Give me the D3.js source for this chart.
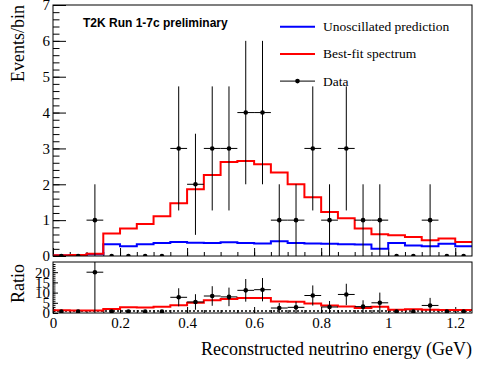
<!DOCTYPE html>
<html>
<head>
<meta charset="utf-8">
<script src="https://cdn.jsdelivr.net/npm/d3@7"></script>
<style>
  body { margin: 0; background: #fff; }
  svg { display: block; }
  .tick text { font-family: "Liberation Serif", "Times New Roman", serif; }
</style>
</head>
<body>
<svg id="chart" width="487" height="370"></svg>
<script>
// bins of reconstructed energy (GeV)
const binEdges = [0, 0.05, 0.1, 0.15, 0.2, 0.25, 0.3, 0.35, 0.4, 0.45, 0.5, 0.55, 0.6,
                  0.65, 0.7, 0.75, 0.8, 0.85, 0.9, 0.95, 1.0, 1.05, 1.1, 1.15, 1.2, 1.25];
const dataCounts = [0, 0, 1, 0, 0, 0, 0, 3, 2, 3, 3, 4, 4, 1, 1, 3, 1, 3, 1, 1, 0, 0, 1, 0, 0];
const dataErr    = [0, 0, 1, 0, 0, 0, 0, 1.73, 1.41, 1.73, 1.73, 2, 2, 1, 1, 1.73, 1, 1.73, 1, 1, 0, 0, 1, 0, 0];
const bestFit    = [0.02, 0.03, 0.06, 0.63, 0.77, 0.89, 1.11, 1.47, 1.86, 2.26, 2.62, 2.65, 2.56,
                    2.33, 2.0, 1.64, 1.23, 1.05, 0.77, 0.61, 0.58, 0.53, 0.44, 0.49, 0.39];
const unoscPred  = [0.015, 0.025, 0.05, 0.33, 0.27, 0.33, 0.36, 0.39, 0.37, 0.36, 0.38, 0.36, 0.35,
                    0.41, 0.36, 0.35, 0.34, 0.33, 0.32, 0.2, 0.36, 0.29, 0.27, 0.34, 0.27];

const xTicks = [0, 0.2, 0.4, 0.6, 0.8, 1.0, 1.2];
const xTickLabels = ["0", "0.2", "0.4", "0.6", "0.8", "1", "1.2"];
const yTicksTop = [0, 1, 2, 3, 4, 5, 6, 7];
const yTicksRatio = [0, 5, 10, 15, 20];

const legendItems = [
    { label: "Unoscillated prediction", color: "#0000ff", type: "line" },
    { label: "Best-fit spectrum",       color: "#ff0000", type: "line" },
    { label: "Data",                    color: "#000000", type: "point" }
];

const svg = d3.select("#chart");
const serif = "'Liberation Serif', 'Times New Roman', serif";

// panel geometry
const L = 53, R = 472;
const mainP = { y0: 5, y1: 256 };
const ratP = { y0: 262, y1: 313 };

const x = d3.scaleLinear().domain([0, 1.25]).range([L, R]);
const y = d3.scaleLinear().domain([0, 7]).range([mainP.y1, mainP.y0]);
const yR = d3.scaleLinear().domain([0, 25]).range([ratP.y1, ratP.y0]);

const bins = dataCounts.map((d, i) => ({
    lo: binEdges[i], hi: binEdges[i + 1], c: (binEdges[i] + binEdges[i + 1]) / 2,
    n: d, err: dataErr[i], fit: bestFit[i], unosc: unoscPred[i],
    ratio: d / unoscPred[i], ratioErr: dataErr[i] / unoscPred[i], fitRatio: bestFit[i] / unoscPred[i]
}));

const defs = svg.append("defs");
defs.append("clipPath").attr("id", "clipTop").append("rect")
    .attr("x", L).attr("y", mainP.y0).attr("width", R - L).attr("height", mainP.y1 - mainP.y0);
defs.append("clipPath").attr("id", "clipRat").append("rect")
    .attr("x", L).attr("y", ratP.y0).attr("width", R - L).attr("height", ratP.y1 - ratP.y0);

// step line through bin contents
const stepPts = (key) => bins.map(b => [b.lo, b[key]]).concat([[bins[bins.length - 1].hi, bins[bins.length - 1][key]]]);
const stepLine = (ys) => d3.line().x(d => x(d[0])).y(d => ys(d[1])).curve(d3.curveStepAfter);

// ---------- axes helpers ----------
function yAxis(g, scale, major, minor, majLen, minLen) {
    g.append("g").attr("transform", `translate(${L},0)`)
        .call(d3.axisLeft(scale).tickValues(minor).tickSize(-minLen).tickFormat(""))
        .call(a => a.select(".domain").remove());
    g.append("g").attr("transform", `translate(${L},0)`)
        .call(d3.axisLeft(scale).tickValues(major).tickSize(-majLen).tickPadding(3).tickFormat(d3.format("d")))
        .call(a => a.select(".domain").remove())
        .call(a => a.selectAll("text").attr("font-size", 15).attr("fill", "#000"));
}
function xAxis(g, yPos, majLen, minLen, labels) {
    g.append("g").attr("transform", `translate(0,${yPos})`)
        .call(d3.axisBottom(x).tickValues(binEdges.slice(0, 25)).tickSize(-minLen).tickFormat(""))
        .call(a => a.select(".domain").remove());
    const ax = d3.axisBottom(x).tickValues(xTicks).tickSize(-majLen).tickPadding(4)
        .tickFormat((d, i) => labels ? xTickLabels[i] : "");
    g.append("g").attr("transform", `translate(0,${yPos})`)
        .call(ax)
        .call(a => a.select(".domain").remove())
        .call(a => a.selectAll("text").attr("font-size", 15).attr("fill", "#000"));
}

// ---------- top panel ----------
const gTop = svg.append("g");
yAxis(gTop, y, yTicksTop, d3.range(0, 35).map(i => i * 0.2), 13, 6.5);
xAxis(gTop, mainP.y1, 8, 4, false);

const plotTop = gTop.append("g").attr("clip-path", "url(#clipTop)");
plotTop.append("path").attr("d", stepLine(y)(stepPts("unosc")))
    .attr("fill", "none").attr("stroke", "#0000ff").attr("stroke-width", 2);
plotTop.append("path").attr("d", stepLine(y)(stepPts("fit")))
    .attr("fill", "none").attr("stroke", "#ff0000").attr("stroke-width", 2);

const errTop = plotTop.append("g").attr("stroke", "#000").attr("stroke-width", 1);
const nonzero = bins.filter(b => b.n > 0);
errTop.selectAll("line.v").data(nonzero).join("line").attr("class", "v")
    .attr("x1", d => x(d.c)).attr("x2", d => x(d.c))
    .attr("y1", d => y(d.n - d.err)).attr("y2", d => y(d.n + d.err));
errTop.selectAll("line.h").data(nonzero).join("line").attr("class", "h")
    .attr("x1", d => x(d.lo)).attr("x2", d => x(d.hi))
    .attr("y1", d => y(d.n)).attr("y2", d => y(d.n));
plotTop.selectAll("circle").data(bins).join("circle")
    .attr("cx", d => x(d.c)).attr("cy", d => y(d.n)).attr("r", 2.3).attr("fill", "#000");

gTop.append("rect").attr("x", L).attr("y", mainP.y0).attr("width", R - L).attr("height", mainP.y1 - mainP.y0)
    .attr("fill", "none").attr("stroke", "#000").attr("stroke-width", 1);

gTop.append("text").attr("x", 83).attr("y", 27)
    .attr("font-family", "'Liberation Sans', Arial, sans-serif").attr("font-weight", "bold")
    .attr("font-size", 12).text("T2K Run 1-7c preliminary");

// legend
const leg = gTop.append("g").selectAll("g").data(legendItems).join("g")
    .attr("transform", (d, i) => `translate(280,${26.7 + i * 27.2})`);
leg.append("line").attr("x1", 0).attr("x2", 35).attr("y1", 0).attr("y2", 0)
    .attr("stroke", d => d.color).attr("stroke-width", d => d.type === "line" ? 2 : 1);
leg.filter(d => d.type === "point").append("circle").attr("cx", 17.5).attr("cy", 0).attr("r", 2.3).attr("fill", "#000");
leg.append("text").attr("x", 43).attr("y", 0).attr("dy", "0.33em")
    .attr("font-family", serif).attr("font-size", 13.5).text(d => d.label);

svg.append("text").attr("transform", `translate(24,${mainP.y0}) rotate(-90)`)
    .attr("text-anchor", "end").attr("font-family", serif).attr("font-size", 18).text("Events/bin");

// ---------- ratio panel ----------
const gRat = svg.append("g");
yAxis(gRat, yR, yTicksRatio, d3.range(0, 25), 5, 2.5);
xAxis(gRat, ratP.y1, 6, 3, true);

const plotRat = gRat.append("g").attr("clip-path", "url(#clipRat)");
plotRat.append("line").attr("x1", L).attr("x2", R).attr("y1", yR(1)).attr("y2", yR(1))
    .attr("stroke", "#000").attr("stroke-width", 1.5).attr("stroke-dasharray", "2 2");
plotRat.append("path").attr("d", stepLine(yR)(stepPts("fitRatio")))
    .attr("fill", "none").attr("stroke", "#ff0000").attr("stroke-width", 2);

const errRat = plotRat.append("g").attr("stroke", "#000").attr("stroke-width", 1);
errRat.selectAll("line.v").data(nonzero).join("line").attr("class", "v")
    .attr("x1", d => x(d.c)).attr("x2", d => x(d.c))
    .attr("y1", d => yR(d.ratio - d.ratioErr)).attr("y2", d => yR(d.ratio + d.ratioErr));
errRat.selectAll("line.h").data(nonzero).join("line").attr("class", "h")
    .attr("x1", d => x(d.lo)).attr("x2", d => x(d.hi))
    .attr("y1", d => yR(d.ratio)).attr("y2", d => yR(d.ratio));
plotRat.selectAll("circle").data(bins).join("circle")
    .attr("cx", d => x(d.c)).attr("cy", d => Math.min(yR(d.ratio), ratP.y1 - 1.5)).attr("r", 2.3).attr("fill", "#000");

gRat.append("rect").attr("x", L).attr("y", ratP.y0).attr("width", R - L).attr("height", ratP.y1 - ratP.y0)
    .attr("fill", "none").attr("stroke", "#000").attr("stroke-width", 1);

svg.append("text").attr("transform", `translate(24,${ratP.y0 + 2}) rotate(-90)`)
    .attr("text-anchor", "end").attr("font-family", serif).attr("font-size", 18).text("Ratio");

svg.append("text").attr("x", R).attr("y", 355).attr("text-anchor", "end")
    .attr("font-family", serif).attr("font-size", 18).text("Reconstructed neutrino energy (GeV)");
</script>
</body>
</html>
